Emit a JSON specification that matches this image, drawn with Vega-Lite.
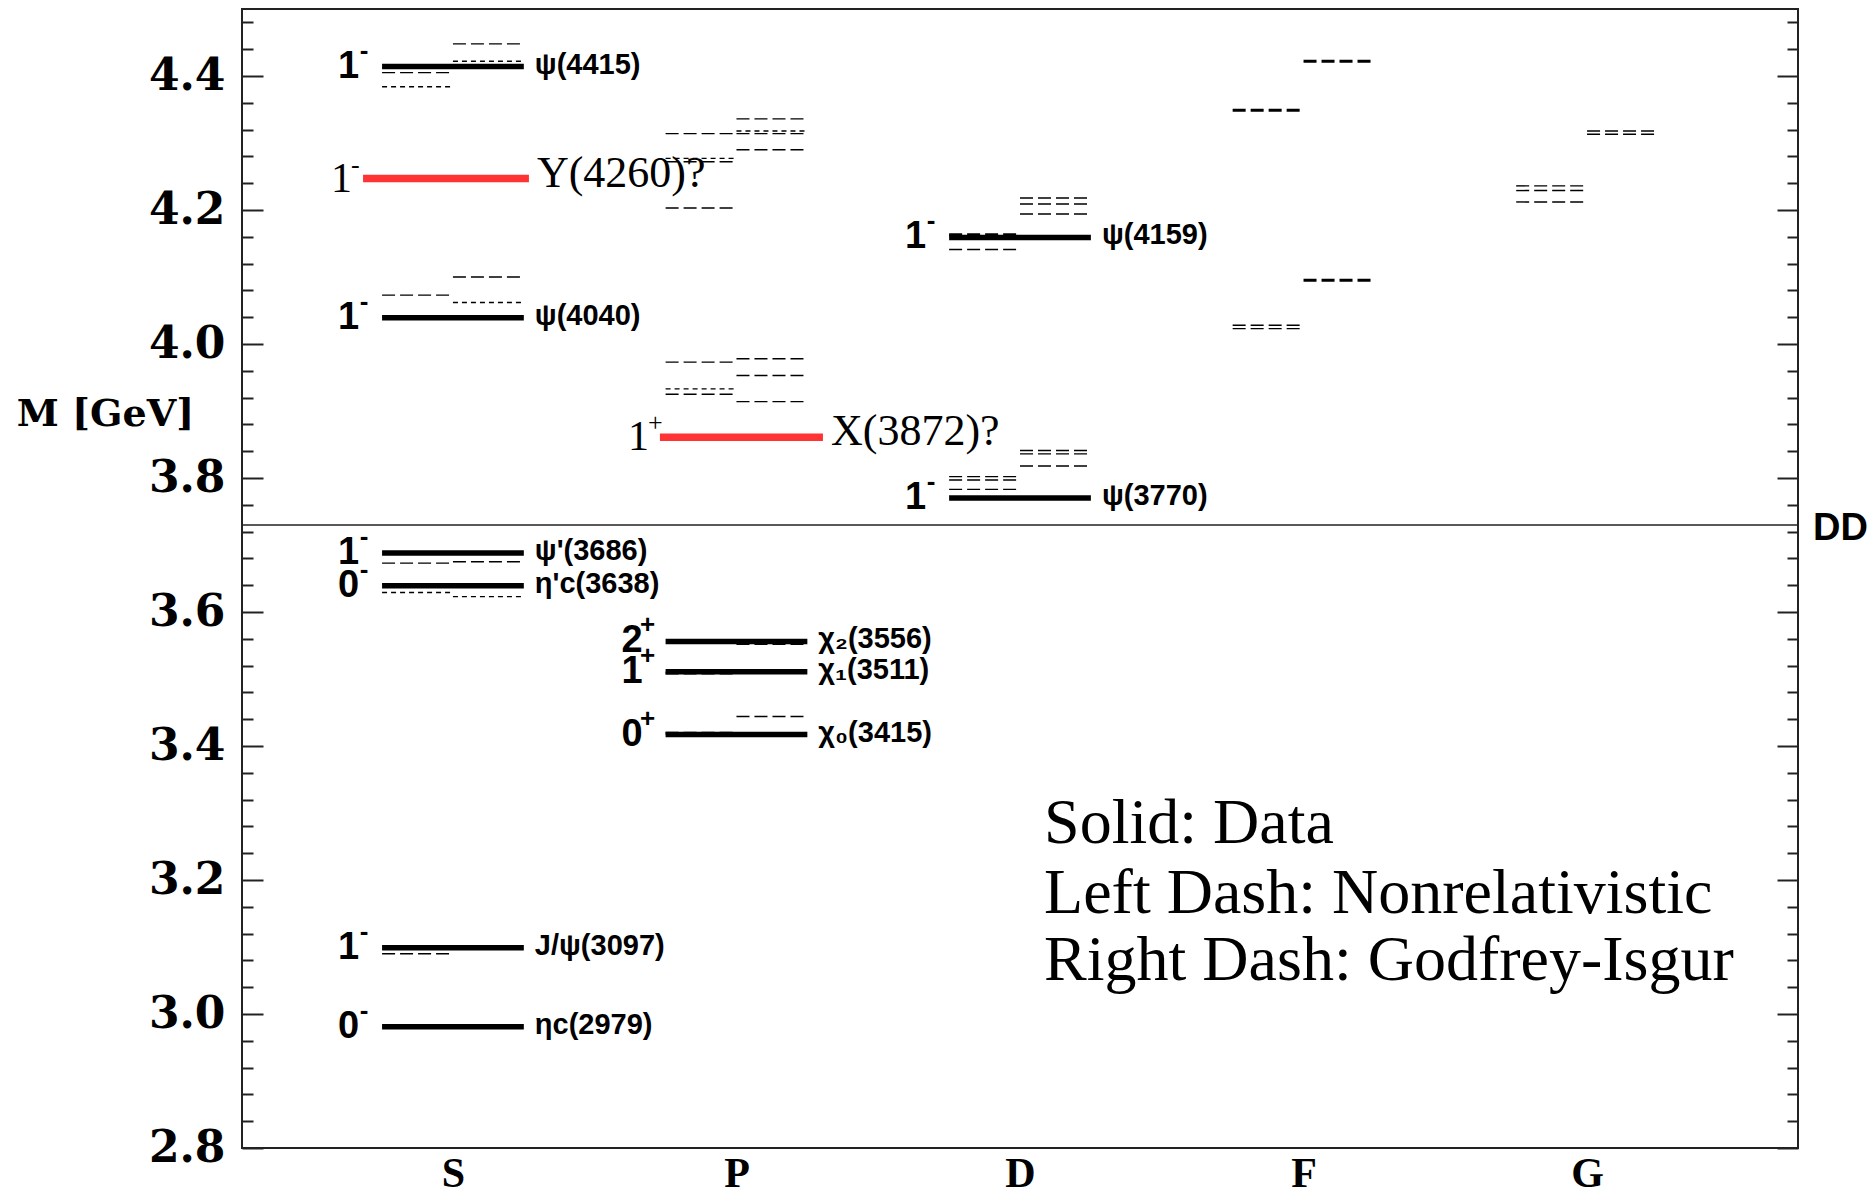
{
  "$schema": "https://vega.github.io/schema/vega-lite/v6.json",
  "width": 1556,
  "height": 1139,
  "autosize": {"type": "none"},
  "padding": {"left": 242, "top": 9, "right": 75, "bottom": 51},
  "background": "#ffffff",
  "config": {"view": {"stroke": "#222222", "strokeWidth": 2}},
  "datasets": {
    "states": [
      {"L": "S", "x0": 0.75, "x1": 1.25, "M": 4.414, "J": "1", "P": "-", "name": "ψ(4415)", "kind": "Data"},
      {"L": "S", "x0": 0.683, "x1": 1.268, "M": 4.247, "J": "1", "P": "-", "name": "Y(4260)?", "kind": "Candidate"},
      {"L": "S", "x0": 0.75, "x1": 1.25, "M": 4.039, "J": "1", "P": "-", "name": "ψ(4040)", "kind": "Data"},
      {"L": "S", "x0": 0.75, "x1": 1.25, "M": 3.688, "J": "1", "P": "-", "name": "ψ'(3686)", "kind": "Data"},
      {"L": "S", "x0": 0.75, "x1": 1.25, "M": 3.639, "J": "0", "P": "-", "name": "η'c(3638)", "kind": "Data"},
      {"L": "S", "x0": 0.75, "x1": 1.25, "M": 3.099, "J": "1", "P": "-", "name": "J/ψ(3097)", "kind": "Data"},
      {"L": "S", "x0": 0.75, "x1": 1.25, "M": 2.981, "J": "0", "P": "-", "name": "ηc(2979)", "kind": "Data"},
      {"L": "P", "x0": 1.73, "x1": 2.305, "M": 3.861, "J": "1", "P": "+", "name": "X(3872)?", "kind": "Candidate"},
      {"L": "P", "x0": 1.75, "x1": 2.25, "M": 3.556, "J": "2", "P": "+", "name": "χ₂(3556)", "kind": "Data"},
      {"L": "P", "x0": 1.75, "x1": 2.25, "M": 3.511, "J": "1", "P": "+", "name": "χ₁(3511)", "kind": "Data"},
      {"L": "P", "x0": 1.75, "x1": 2.25, "M": 3.417, "J": "0", "P": "+", "name": "χ₀(3415)", "kind": "Data"},
      {"L": "D", "x0": 2.75, "x1": 3.25, "M": 4.159, "J": "1", "P": "-", "name": "ψ(4159)", "kind": "Data"},
      {"L": "D", "x0": 2.75, "x1": 3.25, "M": 3.770, "J": "1", "P": "-", "name": "ψ(3770)", "kind": "Data"}
    ],
    "models": [
      {"L": "S", "side": "left", "x0": 0.75, "x1": 1.0, "M": 4.405, "kind": "Model"},
      {"L": "S", "side": "left", "x0": 0.75, "x1": 1.0, "M": 4.384, "kind": "Model (dotted)"},
      {"L": "S", "side": "right", "x0": 1.0, "x1": 1.25, "M": 4.448, "kind": "Model"},
      {"L": "S", "side": "right", "x0": 1.0, "x1": 1.25, "M": 4.422, "kind": "Model (dotted)"},
      {"L": "S", "side": "left", "x0": 0.75, "x1": 1.0, "M": 4.073, "kind": "Model"},
      {"L": "S", "side": "right", "x0": 1.0, "x1": 1.25, "M": 4.100, "kind": "Model"},
      {"L": "S", "side": "right", "x0": 1.0, "x1": 1.25, "M": 4.062, "kind": "Model (dotted)"},
      {"L": "S", "side": "left", "x0": 0.75, "x1": 1.0, "M": 3.673, "kind": "Model"},
      {"L": "S", "side": "right", "x0": 1.0, "x1": 1.25, "M": 3.675, "kind": "Model"},
      {"L": "S", "side": "left", "x0": 0.75, "x1": 1.0, "M": 3.629, "kind": "Model (dotted)"},
      {"L": "S", "side": "right", "x0": 1.0, "x1": 1.25, "M": 3.623, "kind": "Model (dotted)"},
      {"L": "S", "side": "left", "x0": 0.75, "x1": 1.0, "M": 3.090, "kind": "Model"},
      {"L": "P", "side": "left", "x0": 1.75, "x1": 2.0, "M": 4.314, "kind": "Model"},
      {"L": "P", "side": "left", "x0": 1.75, "x1": 2.0, "M": 4.277, "kind": "Model (dotted)"},
      {"L": "P", "side": "left", "x0": 1.75, "x1": 2.0, "M": 4.272, "kind": "Model"},
      {"L": "P", "side": "left", "x0": 1.75, "x1": 2.0, "M": 4.203, "kind": "Model"},
      {"L": "P", "side": "right", "x0": 2.0, "x1": 2.25, "M": 4.336, "kind": "Model"},
      {"L": "P", "side": "right", "x0": 2.0, "x1": 2.25, "M": 4.318, "kind": "Model (dotted)"},
      {"L": "P", "side": "right", "x0": 2.0, "x1": 2.25, "M": 4.314, "kind": "Model"},
      {"L": "P", "side": "right", "x0": 2.0, "x1": 2.25, "M": 4.290, "kind": "Model"},
      {"L": "P", "side": "left", "x0": 1.75, "x1": 2.0, "M": 3.973, "kind": "Model"},
      {"L": "P", "side": "left", "x0": 1.75, "x1": 2.0, "M": 3.933, "kind": "Model (dotted)"},
      {"L": "P", "side": "left", "x0": 1.75, "x1": 2.0, "M": 3.925, "kind": "Model"},
      {"L": "P", "side": "right", "x0": 2.0, "x1": 2.25, "M": 3.978, "kind": "Model"},
      {"L": "P", "side": "right", "x0": 2.0, "x1": 2.25, "M": 3.953, "kind": "Model"},
      {"L": "P", "side": "right", "x0": 2.0, "x1": 2.25, "M": 3.914, "kind": "Model"},
      {"L": "P", "side": "right", "x0": 2.0, "x1": 2.25, "M": 3.553, "kind": "Model (bold)"},
      {"L": "P", "side": "left", "x0": 1.75, "x1": 2.0, "M": 3.509, "kind": "Model (bold)"},
      {"L": "P", "side": "right", "x0": 2.0, "x1": 2.25, "M": 3.511, "kind": "Model (dotted)"},
      {"L": "P", "side": "left", "x0": 1.75, "x1": 2.0, "M": 3.419, "kind": "Model (bold)"},
      {"L": "P", "side": "right", "x0": 2.0, "x1": 2.25, "M": 3.444, "kind": "Model"},
      {"L": "D", "side": "left", "x0": 2.75, "x1": 3.0, "M": 4.163, "kind": "Model (bold)"},
      {"L": "D", "side": "left", "x0": 2.75, "x1": 3.0, "M": 4.141, "kind": "Model"},
      {"L": "D", "side": "right", "x0": 3.0, "x1": 3.25, "M": 4.218, "kind": "Model"},
      {"L": "D", "side": "right", "x0": 3.0, "x1": 3.25, "M": 4.209, "kind": "Model"},
      {"L": "D", "side": "right", "x0": 3.0, "x1": 3.25, "M": 4.194, "kind": "Model"},
      {"L": "D", "side": "left", "x0": 2.75, "x1": 3.0, "M": 3.802, "kind": "Model"},
      {"L": "D", "side": "left", "x0": 2.75, "x1": 3.0, "M": 3.797, "kind": "Model"},
      {"L": "D", "side": "left", "x0": 2.75, "x1": 3.0, "M": 3.783, "kind": "Model"},
      {"L": "D", "side": "right", "x0": 3.0, "x1": 3.25, "M": 3.841, "kind": "Model"},
      {"L": "D", "side": "right", "x0": 3.0, "x1": 3.25, "M": 3.836, "kind": "Model"},
      {"L": "D", "side": "right", "x0": 3.0, "x1": 3.25, "M": 3.818, "kind": "Model"},
      {"L": "F", "side": "right", "x0": 4.0, "x1": 4.25, "M": 4.422, "kind": "Model (bold)"},
      {"L": "F", "side": "left", "x0": 3.75, "x1": 4.0, "M": 4.349, "kind": "Model (bold)"},
      {"L": "F", "side": "right", "x0": 4.0, "x1": 4.25, "M": 4.095, "kind": "Model (bold)"},
      {"L": "F", "side": "left", "x0": 3.75, "x1": 4.0, "M": 4.028, "kind": "Model"},
      {"L": "F", "side": "left", "x0": 3.75, "x1": 4.0, "M": 4.023, "kind": "Model"},
      {"L": "G", "side": "right", "x0": 5.0, "x1": 5.25, "M": 4.318, "kind": "Model"},
      {"L": "G", "side": "right", "x0": 5.0, "x1": 5.25, "M": 4.313, "kind": "Model"},
      {"L": "G", "side": "left", "x0": 4.75, "x1": 5.0, "M": 4.236, "kind": "Model"},
      {"L": "G", "side": "left", "x0": 4.75, "x1": 5.0, "M": 4.229, "kind": "Model"},
      {"L": "G", "side": "left", "x0": 4.75, "x1": 5.0, "M": 4.212, "kind": "Model"}
    ],
    "thresholds": [{"label": "DD", "M": 3.73}],
    "notes": [
      {"text": "Solid: Data", "x": 3.085, "M": 3.255},
      {"text": "Left Dash: Nonrelativistic", "x": 3.085, "M": 3.151},
      {"text": "Right Dash: Godfrey-Isgur", "x": 3.085, "M": 3.051}
    ]
  },
  "resolve": {"axis": {"x": "independent", "y": "independent"}},
  "layer": [
    {
      "data": {"name": "states"},
      "mark": {"type": "rule"},
      "encoding": {
        "x": {"field": "x0", "type": "quantitative",
          "scale": {"domain": [0.256, 5.744], "nice": false, "zero": false},
          "axis": {"orient": "bottom", "values": [1, 2, 3, 4, 5], "labelExpr": "datum.value == 1 ? 'S' : datum.value == 2 ? 'P' : datum.value == 3 ? 'D' : datum.value == 4 ? 'F' : 'G'",
            "ticks": false, "domain": false, "grid": false, "labelFont": "Liberation Serif", "labelFontWeight": "bold",
            "labelFontSize": 42, "labelColor": "#000000", "labelPadding": 5, "labelOverlap": false, "title": null}},
        "x2": {"field": "x1"},
        "y": {"field": "M", "type": "quantitative",
          "scale": {"domain": [2.8, 4.5], "nice": false, "zero": false},
          "axis": {"orient": "left",
            "values": [2.8, 2.84, 2.88, 2.92, 2.96, 3.0, 3.04, 3.08, 3.12, 3.16, 3.2, 3.24, 3.28, 3.32, 3.36, 3.4, 3.44, 3.48, 3.52, 3.56, 3.6, 3.64, 3.68, 3.72, 3.76, 3.8, 3.84, 3.88, 3.92, 3.96, 4.0, 4.04, 4.08, 4.12, 4.16, 4.2, 4.24, 4.28, 4.32, 4.36, 4.4, 4.44, 4.48],
            "labelExpr": "abs(datum.value*5 - round(datum.value*5)) < 0.01 ? format(datum.value, '.1f') : ''",
            "tickSize": {"condition": {"test": "abs(datum.value*5 - round(datum.value*5)) < 0.01", "value": -21}, "value": -11},
            "tickWidth": 2, "tickColor": "#222222", "domain": false, "grid": false,
            "labelFont": "DejaVu Serif", "labelFontWeight": "bold", "labelFontSize": 44, "labelColor": "#000000",
            "labelPadding": 38, "labelOverlap": false, "labelFlush": false,
            "title": "M [GeV]", "titleAngle": 0, "titleX": -137, "titleY": 405, "titleAlign": "center",
            "titleBaseline": "middle", "titleFont": "DejaVu Serif", "titleFontSize": 38, "titleFontWeight": "bold",
            "titleColor": "#000000"}},
        "color": {"field": "kind", "type": "nominal", "scale": {"domain": ["Data", "Candidate"], "range": ["#000000", "#ff3333"]}, "legend": null},
        "strokeWidth": {"field": "kind", "type": "nominal", "scale": {"type": "ordinal", "domain": ["Data", "Candidate"], "range": [5.5, 7.5]}, "legend": null}
      }
    },
    {
      "data": {"name": "models"},
      "transform": [{"filter": "datum.kind === 'Model'"}],
      "mark": {"type": "rule", "color": "#000000", "strokeWidth": 1.4, "strokeDash": [13, 5]},
      "encoding": {
        "x": {"field": "x0", "type": "quantitative", "scale": {"domain": [0.256, 5.744], "nice": false, "zero": false}, "axis": null},
        "x2": {"field": "x1"},
        "y": {"field": "M", "type": "quantitative", "scale": {"domain": [2.8, 4.5], "nice": false, "zero": false}, "axis": null}
      }
    },
    {
      "data": {"name": "models"},
      "transform": [{"filter": "datum.kind === 'Model (dotted)'"}],
      "mark": {"type": "rule", "color": "#000000", "strokeWidth": 1.4, "strokeDash": [5, 4]},
      "encoding": {
        "x": {"field": "x0", "type": "quantitative", "scale": {"domain": [0.256, 5.744], "nice": false, "zero": false}, "axis": null},
        "x2": {"field": "x1"},
        "y": {"field": "M", "type": "quantitative", "scale": {"domain": [2.8, 4.5], "nice": false, "zero": false}, "axis": null}
      }
    },
    {
      "data": {"name": "models"},
      "transform": [{"filter": "datum.kind === 'Model (bold)'"}],
      "mark": {"type": "rule", "color": "#000000", "strokeWidth": 3, "strokeDash": [13, 5]},
      "encoding": {
        "x": {"field": "x0", "type": "quantitative", "scale": {"domain": [0.256, 5.744], "nice": false, "zero": false}, "axis": null},
        "x2": {"field": "x1"},
        "y": {"field": "M", "type": "quantitative", "scale": {"domain": [2.8, 4.5], "nice": false, "zero": false}, "axis": null}
      }
    },
    {
      "data": {"name": "thresholds"},
      "mark": {"type": "rule", "color": "#222222", "strokeWidth": 1.5},
      "encoding": {
        "y": {"field": "M", "type": "quantitative", "scale": {"domain": [2.8, 4.5], "nice": false, "zero": false},
          "axis": {"orient": "right",
            "values": [2.8, 2.84, 2.88, 2.92, 2.96, 3.0, 3.04, 3.08, 3.12, 3.16, 3.2, 3.24, 3.28, 3.32, 3.36, 3.4, 3.44, 3.48, 3.52, 3.56, 3.6, 3.64, 3.68, 3.72, 3.76, 3.8, 3.84, 3.88, 3.92, 3.96, 4.0, 4.04, 4.08, 4.12, 4.16, 4.2, 4.24, 4.28, 4.32, 4.36, 4.4, 4.44, 4.48],
            "labels": false,
            "tickSize": {"condition": {"test": "abs(datum.value*5 - round(datum.value*5)) < 0.01", "value": -21}, "value": -11},
            "tickWidth": 2, "tickColor": "#222222", "domain": false, "grid": false, "title": null}}
      }
    },
    {
      "data": {"name": "thresholds"},
      "mark": {"type": "text", "align": "left", "baseline": "middle", "dx": 15, "dy": 4, "font": "Liberation Sans", "fontWeight": "bold", "fontSize": 38, "color": "#000000"},
      "encoding": {
        "x": {"datum": 5.744, "type": "quantitative", "scale": {"domain": [0.256, 5.744], "nice": false, "zero": false}, "axis": null},
        "y": {"field": "M", "type": "quantitative", "scale": {"domain": [2.8, 4.5], "nice": false, "zero": false}, "axis": null},
        "text": {"field": "label"}
      }
    },
    {
      "data": {"name": "states"},
      "transform": [{"filter": "datum.kind === 'Data'"}],
      "mark": {"type": "text", "align": "right", "baseline": "middle", "dx": -23, "font": "Liberation Sans", "fontWeight": "bold", "fontSize": 38, "color": "#000000"},
      "encoding": {
        "x": {"field": "x0", "type": "quantitative", "scale": {"domain": [0.256, 5.744], "nice": false, "zero": false}, "axis": null},
        "y": {"field": "M", "type": "quantitative", "scale": {"domain": [2.8, 4.5], "nice": false, "zero": false}, "axis": null},
        "text": {"field": "J"}
      }
    },
    {
      "data": {"name": "states"},
      "transform": [{"filter": "datum.kind === 'Data'"}],
      "mark": {"type": "text", "align": "center", "baseline": "middle", "dx": -18, "dy": -16, "font": "Liberation Sans", "fontWeight": "bold", "fontSize": 26, "color": "#000000"},
      "encoding": {
        "x": {"field": "x0", "type": "quantitative", "scale": {"domain": [0.256, 5.744], "nice": false, "zero": false}, "axis": null},
        "y": {"field": "M", "type": "quantitative", "scale": {"domain": [2.8, 4.5], "nice": false, "zero": false}, "axis": null},
        "text": {"field": "P"}
      }
    },
    {
      "data": {"name": "states"},
      "transform": [{"filter": "datum.kind === 'Candidate'"}],
      "mark": {"type": "text", "align": "right", "baseline": "middle", "dx": -11, "font": "Liberation Serif", "fontSize": 42, "color": "#000000"},
      "encoding": {
        "x": {"field": "x0", "type": "quantitative", "scale": {"domain": [0.256, 5.744], "nice": false, "zero": false}, "axis": null},
        "y": {"field": "M", "type": "quantitative", "scale": {"domain": [2.8, 4.5], "nice": false, "zero": false}, "axis": null},
        "text": {"field": "J"}
      }
    },
    {
      "data": {"name": "states"},
      "transform": [{"filter": "datum.kind === 'Candidate'"}],
      "mark": {"type": "text", "align": "left", "baseline": "middle", "dx": -12, "dy": -14, "font": "Liberation Serif", "fontSize": 26, "color": "#000000"},
      "encoding": {
        "x": {"field": "x0", "type": "quantitative", "scale": {"domain": [0.256, 5.744], "nice": false, "zero": false}, "axis": null},
        "y": {"field": "M", "type": "quantitative", "scale": {"domain": [2.8, 4.5], "nice": false, "zero": false}, "axis": null},
        "text": {"field": "P"}
      }
    },
    {
      "data": {"name": "states"},
      "transform": [{"filter": "datum.kind === 'Data'"}],
      "mark": {"type": "text", "align": "left", "baseline": "middle", "dx": 11, "dy": -2, "font": "Liberation Sans", "fontWeight": "bold", "fontSize": 29, "color": "#000000"},
      "encoding": {
        "x": {"field": "x1", "type": "quantitative", "scale": {"domain": [0.256, 5.744], "nice": false, "zero": false}, "axis": null},
        "y": {"field": "M", "type": "quantitative", "scale": {"domain": [2.8, 4.5], "nice": false, "zero": false}, "axis": null},
        "text": {"field": "name"}
      }
    },
    {
      "data": {"name": "states"},
      "transform": [{"filter": "datum.kind === 'Candidate'"}],
      "mark": {"type": "text", "align": "left", "baseline": "middle", "dx": 8, "dy": -5, "font": "Liberation Serif", "fontSize": 44, "color": "#000000"},
      "encoding": {
        "x": {"field": "x1", "type": "quantitative", "scale": {"domain": [0.256, 5.744], "nice": false, "zero": false}, "axis": null},
        "y": {"field": "M", "type": "quantitative", "scale": {"domain": [2.8, 4.5], "nice": false, "zero": false}, "axis": null},
        "text": {"field": "name"}
      }
    },
    {
      "data": {"name": "notes"},
      "mark": {"type": "text", "align": "left", "baseline": "alphabetic", "font": "Liberation Serif", "fontSize": 64, "color": "#000000"},
      "encoding": {
        "x": {"field": "x", "type": "quantitative", "scale": {"domain": [0.256, 5.744], "nice": false, "zero": false}, "axis": null},
        "y": {"field": "M", "type": "quantitative", "scale": {"domain": [2.8, 4.5], "nice": false, "zero": false}, "axis": null},
        "text": {"field": "text"}
      }
    }
  ]
}
